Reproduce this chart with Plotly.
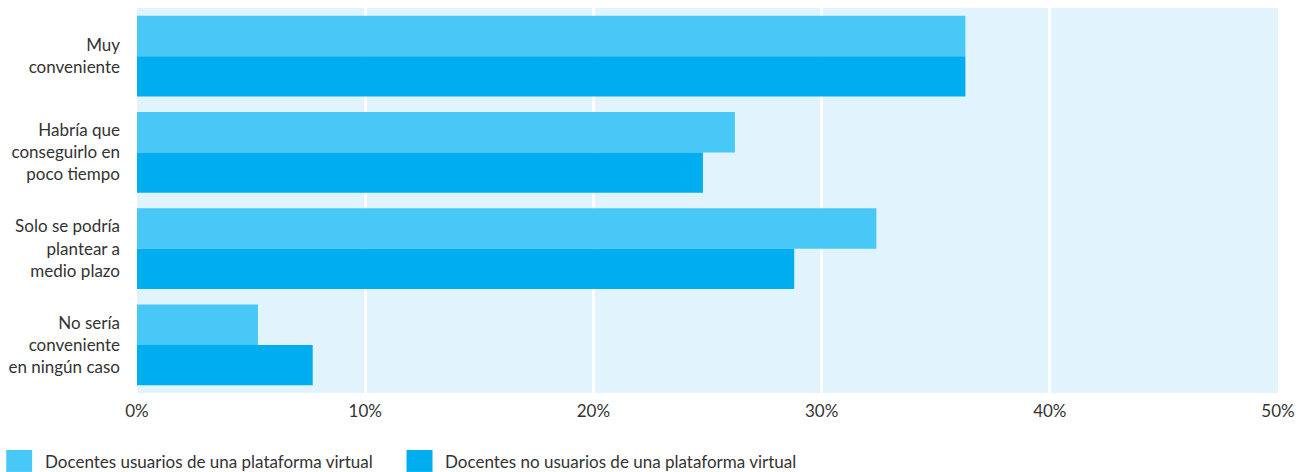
import plotly.graph_objects as go

categories = [
    "Muy<br>conveniente",
    "Habría que<br>conseguirlo en<br>poco tiempo",
    "Solo se podría<br>plantear a<br>medio plazo",
    "No sería<br>conveniente<br>en ningún caso",
]
usuarios = [36.3, 26.2, 32.4, 5.3]
no_usuarios = [36.3, 24.8, 28.8, 7.7]
series_names = [
    "Docentes usuarios de una plataforma virtual",
    "Docentes no usuarios de una plataforma virtual",
]
x_ticks = [0, 10, 20, 30, 40, 50]

LIGHT = "#48C8F6"
DARK = "#00AEEF"
FONT = "Lato"
TEXT = "#333333"

fig = go.Figure()
fig.add_trace(go.Bar(y=categories, x=usuarios, orientation="h", name=series_names[0],
                     marker=dict(color=LIGHT, line=dict(width=0)), showlegend=False))
fig.add_trace(go.Bar(y=categories, x=no_usuarios, orientation="h", name=series_names[1],
                     marker=dict(color=DARK, line=dict(width=0)), showlegend=False))

# legend drawn as swatches + labels below the plot
swatch_x = [(-0.1146, -0.0919), (0.2362, 0.2590)]
label_x = [-0.0822, 0.2686]
for col, (x0, x1) in zip([LIGHT, DARK], swatch_x):
    fig.add_shape(type="rect", xref="paper", yref="paper",
                  x0=x0, x1=x1, y0=-0.148, y1=-0.205,
                  fillcolor=col, line=dict(width=0))
for name, lx in zip(series_names, label_x):
    fig.add_annotation(xref="paper", yref="paper", x=lx, y=-0.178,
                       text=name, showarrow=False, xanchor="left", yanchor="middle",
                       font=dict(family=FONT, size=17, color=TEXT))

fig.update_layout(
    width=1304, height=472,
    margin=dict(l=135, r=26, t=8, b=79),
    barmode="group", bargap=0.16, bargroupgap=0,
    plot_bgcolor="#E1F3FC", paper_bgcolor="white",
    font=dict(family=FONT, size=17, color=TEXT),
)
fig.update_xaxes(
    range=[0, 50], tickvals=x_ticks, ticktext=[f"{v}%" for v in x_ticks],
    showgrid=True, gridcolor="white", gridwidth=2.5, zeroline=False,
    showline=False, ticks="", ticklabelstandoff=6,
)
fig.update_yaxes(
    autorange="reversed", showgrid=False, zeroline=False, showline=False,
    ticks="", ticklabelstandoff=16,
)

fig.write_html("out.html")
